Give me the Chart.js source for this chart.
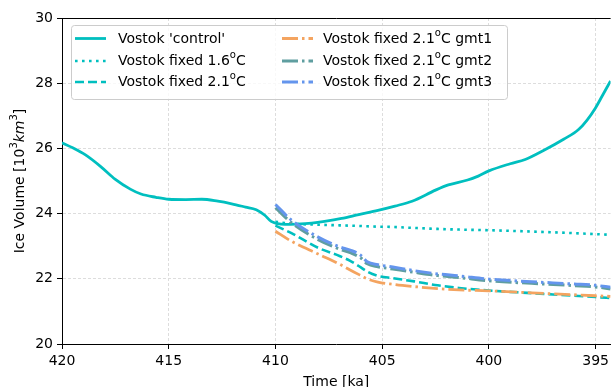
<!DOCTYPE html>
<html>
<head>
<meta charset="utf-8">
<script src="https://cdn.jsdelivr.net/npm/chart.js@4.4.0/dist/chart.umd.min.js"></script>
<style>
    html, body { margin: 0; padding: 0; background: #fff; }
    #wrap { width: 613px; height: 387px; }
</style>
</head>
<body>
<div id="wrap"><canvas id="chart" width="613" height="387"></canvas></div>
<script>
// 軸刻度
const xTicks = [420, 415, 410, 405, 400, 395];
const yTicks = [20, 22, 24, 26, 28, 30];

// Vostok 'control'
const controlTime = [420, 419.5, 418.9, 418.2, 417.5, 416.8, 416.3, 415.6, 415, 414.2, 413.45, 412.7,
    412.05, 411.4, 410.9, 410.5, 410.2, 409.9, 409.56, 409, 408.3, 407.7, 406.9, 406.1, 405.2, 404.4,
    403.6, 402.5, 401.9, 401, 400.5, 400, 399, 398.3, 397.4, 396.5, 395.8, 395.4, 395, 394.7, 394.3];
const controlIce = [26.17, 26.02, 25.8, 25.45, 25.05, 24.75, 24.6, 24.5, 24.44, 24.43, 24.44, 24.38,
    24.3, 24.2, 24.12, 23.95, 23.76, 23.69, 23.67, 23.68, 23.71, 23.76, 23.85, 23.97, 24.1, 24.23,
    24.38, 24.72, 24.88, 25.03, 25.15, 25.31, 25.53, 25.66, 25.95, 26.28, 26.58, 26.87, 27.25, 27.6,
    28.07];

// 410 ka 之後的情境
const scenarioTime = [410, 409.25, 408, 407, 406.5, 406, 405.7, 405.2, 404.5, 403.5, 402.4, 401.4,
    400, 398, 396, 395, 394.3];
const fixed16Ice = [23.75, 23.69, 23.66, 23.64, 23.63, 23.62, 23.61, 23.6, 23.59, 23.56, 23.53, 23.51,
    23.49, 23.45, 23.4, 23.37, 23.35];
const fixed21Ice = [23.63, 23.4, 22.95, 22.7, 22.55, 22.35, 22.22, 22.09, 22.02, 21.92, 21.8, 21.72,
    21.64, 21.56, 21.48, 21.44, 21.41];
const gmt1Ice = [23.46, 23.15, 22.76, 22.45, 22.27, 22.1, 22.0, 21.9, 21.83, 21.76, 21.7, 21.66,
    21.63, 21.57, 21.51, 21.48, 21.46];
const gmt2Ice = [24.18, 23.72, 23.2, 22.91, 22.8, 22.64, 22.46, 22.37, 22.3, 22.2, 22.1, 22.04,
    21.94, 21.86, 21.79, 21.75, 21.69];
const gmt3Ice = [24.28, 23.8, 23.28, 22.98, 22.88, 22.72, 22.52, 22.43, 22.36, 22.25, 22.15, 22.09,
    21.99, 21.91, 21.84, 21.8, 21.74];

const seriesLabels = [
    "Vostok 'control'",
    'Vostok fixed 1.6°C',
    'Vostok fixed 2.1°C',
    'Vostok fixed 2.1°C gmt1',
    'Vostok fixed 2.1°C gmt2',
    'Vostok fixed 2.1°C gmt3'
];

const FONT = '"DejaVu Sans", sans-serif';
const CYAN = '#00bfbf';
const DASHDOT = [16, 4, 2.5, 4];

function pairs(xs, ys) {
    return xs.map((x, i) => ({ x: x, y: ys[i] }));
}

function makeSet(idx, xs, ys, color, dash, width) {
    return {
        label: seriesLabels[idx],
        data: pairs(xs, ys),
        borderColor: color,
        backgroundColor: color,
        borderDash: dash,
        borderWidth: width,
        borderCapStyle: 'butt',
        pointRadius: 0,
        fill: false,
        cubicInterpolationMode: 'monotone',
        order: 6 - idx
    };
}

// 文字片段（上標 / 斜體）
function partFont(p, size) {
    const s = p.sup ? Math.round(size * 0.7) : size;
    return (p.italic ? 'italic ' : '') + s + 'px ' + FONT;
}

function drawParts(ctx, parts, x, y, size, center) {
    let total = 0;
    parts.forEach(p => {
        ctx.font = partFont(p, size);
        p.w = ctx.measureText(p.t).width;
        total += p.w;
    });
    let cx = center ? x - total / 2 : x;
    parts.forEach(p => {
        ctx.font = partFont(p, size);
        ctx.fillText(p.t, cx, y - (p.sup ? size * 0.4 : 0));
        cx += p.w;
    });
}

function labelParts(label) {
    const i = label.indexOf('°');
    if (i < 0) return [{ t: label }];
    return [{ t: label.slice(0, i) }, { t: 'o', sup: true }, { t: label.slice(i + 1) }];
}

const framePlugin = {
    id: 'frame',
    afterDraw(chart) {
        const ctx = chart.ctx;
        const a = chart.chartArea;
        ctx.save();
        // 上邊框
        ctx.strokeStyle = '#000';
        ctx.lineWidth = 1;
        ctx.beginPath();
        ctx.moveTo(a.left, a.top + 0.5);
        ctx.lineTo(a.right, a.top + 0.5);
        ctx.stroke();

        // 軸標題
        ctx.fillStyle = '#000';
        ctx.textBaseline = 'middle';
        drawParts(ctx, [{ t: 'Time [ka]' }], (a.left + a.right) / 2, 382, 14, true);

        ctx.save();
        ctx.translate(20, (a.top + a.bottom) / 2);
        ctx.rotate(-Math.PI / 2);
        drawParts(ctx, [
            { t: 'Ice Volume [10' },
            { t: '3', sup: true },
            { t: 'km', italic: true },
            { t: '3', sup: true },
            { t: ']' }
        ], 0, 0, 14, true);
        ctx.restore();

        // 圖例
        const box = { x: 71, y: 25, w: 436, h: 74 };
        ctx.fillStyle = 'rgba(255,255,255,0.8)';
        ctx.strokeStyle = '#cccccc';
        ctx.lineWidth = 1;
        ctx.beginPath();
        ctx.roundRect(box.x + 0.5, box.y + 0.5, box.w, box.h, 3);
        ctx.fill();
        ctx.stroke();

        const rows = [38.5, 61, 82];
        const cols = [{ hx: 75, tx: 118 }, { hx: 282, tx: 323 }];
        chart.data.datasets.forEach((ds, i) => {
            const col = cols[Math.floor(i / 3)];
            const y = rows[i % 3];
            ctx.strokeStyle = ds.borderColor;
            ctx.lineWidth = ds.borderWidth;
            ctx.setLineDash(ds.borderDash || []);
            ctx.lineCap = 'butt';
            ctx.beginPath();
            ctx.moveTo(col.hx, y);
            ctx.lineTo(col.hx + 31, y);
            ctx.stroke();
            ctx.setLineDash([]);
            ctx.fillStyle = '#000';
            drawParts(ctx, labelParts(ds.label), col.tx, y + 0.5, 14, false);
        });
        ctx.restore();
    }
};

new Chart(document.getElementById('chart'), {
    type: 'line',
    data: {
        datasets: [
            makeSet(0, controlTime, controlIce, CYAN, [], 2.8),
            makeSet(1, scenarioTime, fixed16Ice, CYAN, [2.6, 4.4], 2.6),
            makeSet(2, scenarioTime, fixed21Ice, CYAN, [9, 4], 2.6),
            makeSet(3, scenarioTime, gmt1Ice, '#f4a460', DASHDOT, 2.8),
            makeSet(4, scenarioTime, gmt2Ice, '#5f9ea0', DASHDOT, 3),
            makeSet(5, scenarioTime, gmt3Ice, '#6495ed', DASHDOT, 3)
        ]
    },
    options: {
        responsive: false,
        animation: false,
        devicePixelRatio: 1,
        layout: { padding: { top: 18, left: 0, right: 0, bottom: 0 } },
        plugins: {
            legend: { display: false },
            tooltip: { enabled: false }
        },
        scales: {
            x: {
                type: 'linear',
                reverse: true,
                min: 394.3,
                max: 420,
                afterBuildTicks: (scale) => {
                    scale.ticks = xTicks.map(v => ({ value: v }));
                },
                afterFit: (scale) => { scale.height = 43; },
                grid: {
                    color: '#dddddd',
                    lineWidth: 1,
                    tickColor: '#000',
                    tickLength: 5,
                    tickWidth: 1
                },
                border: { display: true, color: '#000', width: 1, dash: [3, 2] },
                ticks: {
                    color: '#000',
                    padding: 4,
                    maxRotation: 0,
                    font: { family: FONT, size: 14 }
                }
            },
            y: {
                min: 20,
                max: 30,
                afterBuildTicks: (scale) => {
                    scale.ticks = yTicks.map(v => ({ value: v }));
                },
                afterFit: (scale) => { scale.width = 62; },
                grid: {
                    color: '#dddddd',
                    lineWidth: 1,
                    tickColor: '#000',
                    tickLength: 5,
                    tickWidth: 1
                },
                border: { display: true, color: '#000', width: 1, dash: [3, 2] },
                ticks: {
                    color: '#000',
                    padding: 4,
                    font: { family: FONT, size: 14 }
                }
            }
        }
    },
    plugins: [framePlugin]
});
</script>
</body>
</html>
